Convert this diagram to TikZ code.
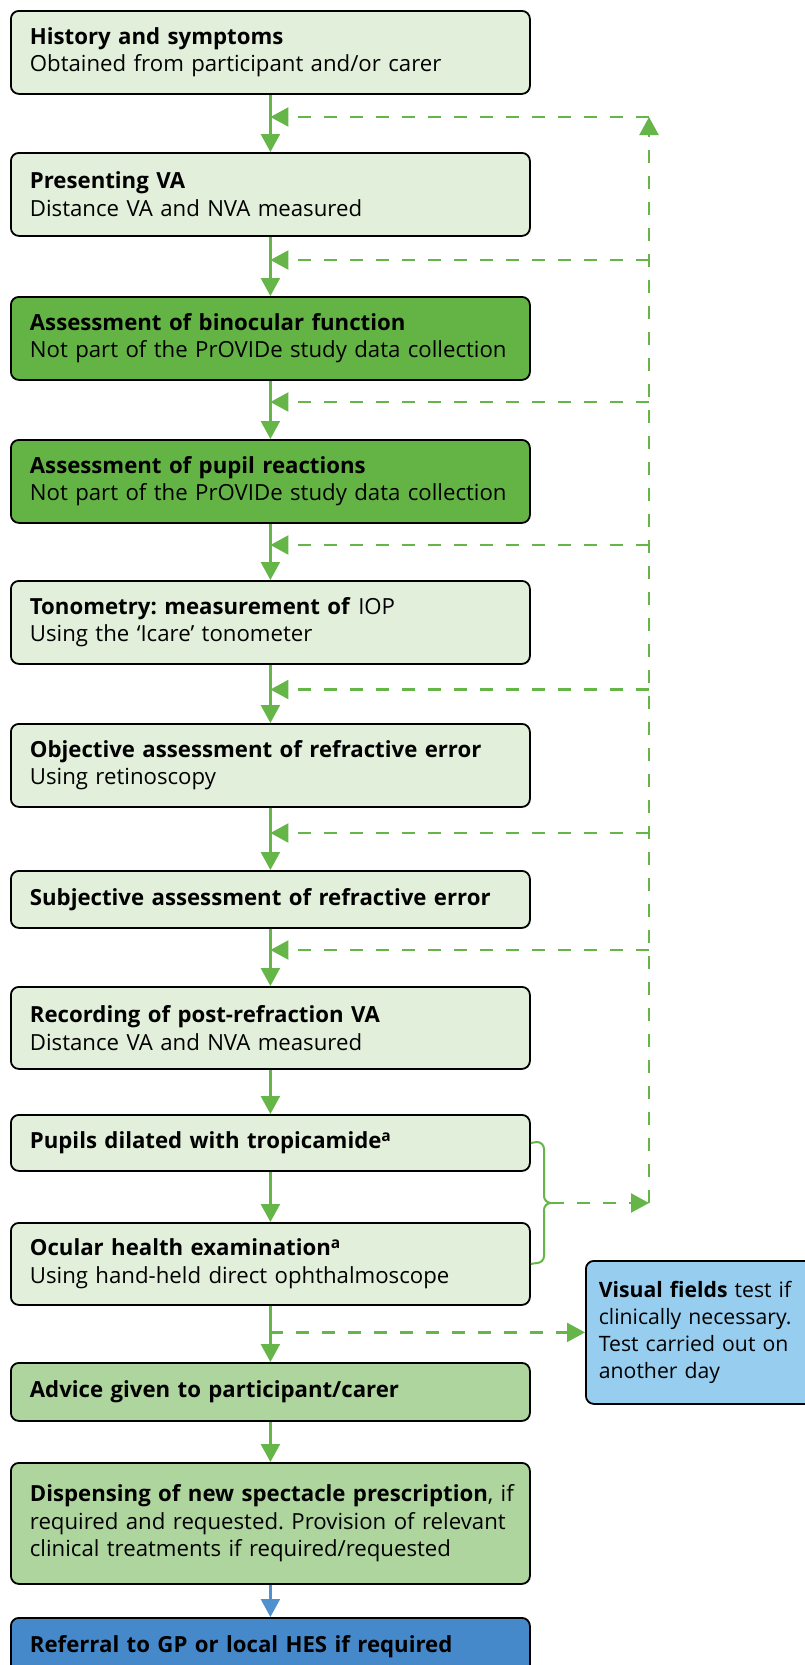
\documentclass[tikz,border=0pt]{standalone}
\usepackage{fontspec}
\setmainfont{Open Sans}[Ligatures={NoCommon}]
\usetikzlibrary{arrows.meta,calc}
\definecolor{palegreen}{HTML}{E2EFDA}
\definecolor{midgreen}{HTML}{64B445}
\definecolor{sagegreen}{HTML}{AED59D}
\definecolor{refblue}{HTML}{4589CB}
\definecolor{skyblue}{HTML}{97CDEF}
\definecolor{arrowgreen}{HTML}{65B548}
\definecolor{arrowblue}{HTML}{4F91CF}
\frenchspacing
\tikzset{
  box/.style={draw=black, line width=1.8pt, rounded corners=8pt, anchor=north west,
    minimum width=519pt, text width=481pt, inner xsep=19pt, inner ysep=0pt,
    align=left, font=\fontsize{22.2}{27.5}\selectfont},
  vfbox/.style={draw=black, line width=1.8pt, rounded corners=8pt, anchor=north west,
    fill=skyblue, minimum width=241pt, text width=215pt, inner xsep=13pt, inner ysep=0pt,
    minimum height=143pt, align=left, font=\fontsize{21.2}{27}\selectfont},
  flow/.style={draw=arrowgreen, line width=2.4pt, -{Triangle[length=18pt,width=19pt,fill=arrowgreen]}},
  blueflow/.style={draw=arrowblue, line width=2.4pt, -{Triangle[length=18pt,width=19pt,fill=arrowblue]}},
  dashflow/.style={draw=arrowgreen, line width=2.2pt, dash pattern=on 13pt off 13pt,
    -{Triangle[length=18pt,width=19pt,fill=arrowgreen]}},
  bracestyle/.style={draw=arrowgreen, line width=2pt},
}
\begin{document}
\begin{tikzpicture}[x=1pt,y=-1pt]
\useasboundingbox (0,0) rectangle (805,1665);
\node[box, fill=palegreen, minimum height=83pt] (b1) at (10,10)
  {\textbf{History and symptoms}\\Obtained from participant and/or carer};
\node[box, fill=palegreen, minimum height=83pt] (b2) at (10,152)
  {\textbf{Presenting VA}\\Distance VA and NVA measured};
\node[box, fill=midgreen, minimum height=83pt] (b3) at (10,296)
  {\textbf{Assessment of binocular function}\\Not part of the PrOVIDe study data collection};
\node[box, fill=midgreen, minimum height=83pt] (b4) at (10,439)
  {\textbf{Assessment of pupil reactions}\\Not part of the PrOVIDe study data collection};
\node[box, fill=palegreen, minimum height=83pt] (b5) at (10,580)
  {\textbf{Tonometry: measurement of} IOP\\Using the ‘Icare’ tonometer};
\node[box, fill=palegreen, minimum height=83pt] (b6) at (10,723)
  {\textbf{Objective assessment of refractive error}\\Using retinoscopy};
\node[box, fill=palegreen, minimum height=57pt] (b7) at (10,870)
  {\textbf{Subjective assessment of refractive error}};
\node[box, fill=palegreen, minimum height=82pt] (b8) at (10,986)
  {\textbf{Recording of post-refraction VA}\\Distance VA and NVA measured};
\node[box, fill=palegreen, minimum height=56pt] (b9) at (10,1114)
  {\textbf{Pupils dilated with tropicamide\textsuperscript{a}}};
\node[box, fill=palegreen, minimum height=82pt] (b10) at (10,1222)
  {\textbf{Ocular health examination\textsuperscript{a}}\\Using hand-held direct ophthalmoscope};
\node[box, fill=sagegreen, minimum height=58pt] (b11) at (10,1362)
  {\textbf{Advice given to participant/carer}};
\node[box, fill=sagegreen, minimum height=121pt] (b12) at (10,1462)
  {\mbox{\textbf{Dispensing of new spectacle prescription}, if}\\\mbox{required and requested. Provision of relevant}\\clinical treatments if required/requested};
\node[box, fill=refblue, minimum height=58pt] (b13) at (10,1617)
  {\textbf{Referral to GP or local HES if required}};
\node[vfbox] (vf) at (585,1260)
  {\textbf{Visual fields} test if\\clinically necessary.\\Test carried out on\\another day};
% main flow
\foreach \a/\b in {b1/b2,b2/b3,b3/b4,b4/b5,b5/b6,b6/b7,b7/b8,b8/b9,b9/b10,b10/b11,b11/b12}
  \draw[flow] (\a.south) -- (\b.north);
\draw[blueflow] (b12.south) -- (b13.north);
% return line
\coordinate (r1) at (649,117);
\coordinate (r2) at (649,260);
\coordinate (r3) at (649,402);
\coordinate (r4) at (649,545);
\coordinate (r5) at (649,689.5);
\coordinate (r6) at (649,833);
\coordinate (r7) at (649,950);
\coordinate (rb) at (649,1203);
\coordinate (bt) at (551,1203);
\draw[dashflow] (rb) -- (r1);
\foreach \r in {r1,r2,r3,r4,r5,r6,r7}
  \draw[dashflow] (\r) -- (\r -| b1.south);
% brace
\draw[bracestyle] (b9.east) -- (537,1142) to[out=0,in=90] (544,1149) -- (544,1196)
  to[out=-90,in=180] (bt) to[out=180,in=90] (544,1210) -- (544,1256)
  to[out=-90,in=0] (537,1263) -- (b10.east);
\draw[dashflow] (bt) -- (rb);
% to visual fields
\draw[dashflow] (b10.south |- vf.west) -- (vf.west);
\end{tikzpicture}
\end{document}
